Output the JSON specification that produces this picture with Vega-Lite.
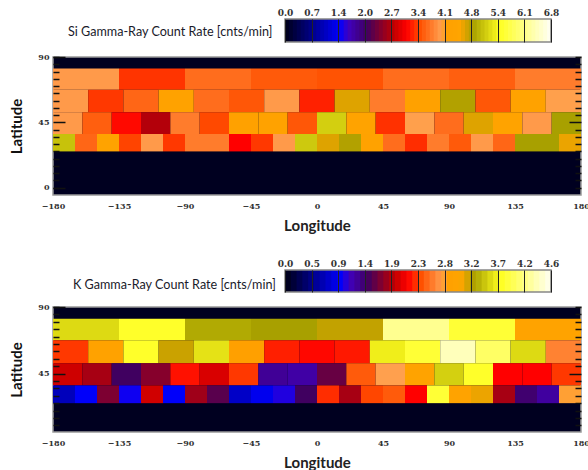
{
"$schema":"https://vega.github.io/schema/vega-lite/v6.json",
"padding":{"left":9,"top":8,"right":0,"bottom":0},
"background":"white",
"datasets":{
"si":[
{"a":-180,"b":-135,"s":82,"n":67.5,"v":3.9},{"a":-135,"b":-90,"s":82,"n":67.5,"v":3.28},{"a":-90,"b":-45,"s":82,"n":67.5,"v":3.6},{"a":-45,"b":0,"s":82,"n":67.5,"v":3.47},{"a":0,"b":45,"s":82,"n":67.5,"v":3.42},{"a":45,"b":90,"s":82,"n":67.5,"v":3.6},{"a":90,"b":135,"s":82,"n":67.5,"v":3.5},{"a":135,"b":180,"s":82,"n":67.5,"v":3.7},
{"a":-180,"b":-156,"s":67.5,"n":52,"v":3.9},{"a":-156,"b":-132,"s":67.5,"n":52,"v":3.3},{"a":-132,"b":-108,"s":67.5,"n":52,"v":3.55},{"a":-108,"b":-84,"s":67.5,"n":52,"v":4.2},{"a":-84,"b":-60,"s":67.5,"n":52,"v":3.6},{"a":-60,"b":-36,"s":67.5,"n":52,"v":3.45},{"a":-36,"b":-12,"s":67.5,"n":52,"v":3.9},{"a":-12,"b":12,"s":67.5,"n":52,"v":3.2},{"a":12,"b":36,"s":67.5,"n":52,"v":4.55},{"a":36,"b":60,"s":67.5,"n":52,"v":3.7},{"a":60,"b":84,"s":67.5,"n":52,"v":4.15},{"a":84,"b":108,"s":67.5,"n":52,"v":4.72},{"a":108,"b":132,"s":67.5,"n":52,"v":3.45},{"a":132,"b":156,"s":67.5,"n":52,"v":4.2},{"a":156,"b":180,"s":67.5,"n":52,"v":3.95},
{"a":-180,"b":-160,"s":52,"n":37,"v":3.9},{"a":-160,"b":-140,"s":52,"n":37,"v":3.5},{"a":-140,"b":-120,"s":52,"n":37,"v":3.1},{"a":-120,"b":-100,"s":52,"n":37,"v":2.65},{"a":-100,"b":-80,"s":52,"n":37,"v":3.7},{"a":-80,"b":-60,"s":52,"n":37,"v":3.37},{"a":-60,"b":-40,"s":52,"n":37,"v":4.18},{"a":-40,"b":-20,"s":52,"n":37,"v":4.2},{"a":-20,"b":0,"s":52,"n":37,"v":3.45},{"a":0,"b":20,"s":52,"n":37,"v":5.1},{"a":20,"b":40,"s":52,"n":37,"v":4.3},{"a":40,"b":60,"s":52,"n":37,"v":3.27},{"a":60,"b":80,"s":52,"n":37,"v":3.95},{"a":80,"b":100,"s":52,"n":37,"v":3.6},{"a":100,"b":120,"s":52,"n":37,"v":4.55},{"a":120,"b":140,"s":52,"n":37,"v":4.3},{"a":140,"b":160,"s":52,"n":37,"v":3.9},{"a":160,"b":180,"s":52,"n":37,"v":4.76},
{"a":-180,"b":-165,"s":37,"n":25,"v":5.0},{"a":-165,"b":-150,"s":37,"n":25,"v":3.55},{"a":-150,"b":-135,"s":37,"n":25,"v":4.3},{"a":-135,"b":-120,"s":37,"n":25,"v":3.35},{"a":-120,"b":-105,"s":37,"n":25,"v":3.9},{"a":-105,"b":-90,"s":37,"n":25,"v":3.3},{"a":-90,"b":-75,"s":37,"n":25,"v":3.7},{"a":-75,"b":-60,"s":37,"n":25,"v":3.7},{"a":-60,"b":-45,"s":37,"n":25,"v":3.06},{"a":-45,"b":-30,"s":37,"n":25,"v":3.3},{"a":-30,"b":-15,"s":37,"n":25,"v":3.9},{"a":-15,"b":0,"s":37,"n":25,"v":5.05},{"a":0,"b":15,"s":37,"n":25,"v":4.55},{"a":15,"b":30,"s":37,"n":25,"v":4.72},{"a":30,"b":45,"s":37,"n":25,"v":4.2},{"a":45,"b":60,"s":37,"n":25,"v":3.6},{"a":60,"b":75,"s":37,"n":25,"v":3.25},{"a":75,"b":90,"s":37,"n":25,"v":3.7},{"a":90,"b":105,"s":37,"n":25,"v":3.47},{"a":105,"b":120,"s":37,"n":25,"v":3.9},{"a":120,"b":135,"s":37,"n":25,"v":3.55},{"a":135,"b":150,"s":37,"n":25,"v":4.76},{"a":150,"b":165,"s":37,"n":25,"v":4.76},{"a":165,"b":180,"s":37,"n":25,"v":4.5}
],
"k":[
{"a":-180,"b":-135,"s":82,"n":67.5,"v":3.5},{"a":-135,"b":-90,"s":82,"n":67.5,"v":3.72},{"a":-90,"b":-45,"s":82,"n":67.5,"v":3.27},{"a":-45,"b":0,"s":82,"n":67.5,"v":3.22},{"a":0,"b":45,"s":82,"n":67.5,"v":3.15},{"a":45,"b":90,"s":82,"n":67.5,"v":4.14},{"a":90,"b":135,"s":82,"n":67.5,"v":3.77},{"a":135,"b":180,"s":82,"n":67.5,"v":2.9},
{"a":-180,"b":-156,"s":67.5,"n":52,"v":2.23},{"a":-156,"b":-132,"s":67.5,"n":52,"v":2.85},{"a":-132,"b":-108,"s":67.5,"n":52,"v":3.72},{"a":-108,"b":-84,"s":67.5,"n":52,"v":3.13},{"a":-84,"b":-60,"s":67.5,"n":52,"v":3.54},{"a":-60,"b":-36,"s":67.5,"n":52,"v":2.76},{"a":-36,"b":-12,"s":67.5,"n":52,"v":2.16},{"a":-12,"b":12,"s":67.5,"n":52,"v":2.09},{"a":12,"b":36,"s":67.5,"n":52,"v":2.14},{"a":36,"b":60,"s":67.5,"n":52,"v":3.6},{"a":60,"b":84,"s":67.5,"n":52,"v":3.77},{"a":84,"b":108,"s":67.5,"n":52,"v":4.32},{"a":108,"b":132,"s":67.5,"n":52,"v":3.96},{"a":132,"b":156,"s":67.5,"n":52,"v":3.5},{"a":156,"b":180,"s":67.5,"n":52,"v":2.53},
{"a":-180,"b":-160,"s":52,"n":37,"v":1.89},{"a":-160,"b":-140,"s":52,"n":37,"v":1.75},{"a":-140,"b":-120,"s":52,"n":37,"v":1.38},{"a":-120,"b":-100,"s":52,"n":37,"v":1.63},{"a":-100,"b":-80,"s":52,"n":37,"v":2.12},{"a":-80,"b":-60,"s":52,"n":37,"v":1.93},{"a":-60,"b":-40,"s":52,"n":37,"v":2.23},{"a":-40,"b":-20,"s":52,"n":37,"v":1.2},{"a":-20,"b":0,"s":52,"n":37,"v":1.15},{"a":0,"b":20,"s":52,"n":37,"v":1.52},{"a":20,"b":40,"s":52,"n":37,"v":2.35},{"a":40,"b":60,"s":52,"n":37,"v":2.67},{"a":60,"b":80,"s":52,"n":37,"v":2.9},{"a":80,"b":100,"s":52,"n":37,"v":3.45},{"a":100,"b":120,"s":52,"n":37,"v":3.72},{"a":120,"b":140,"s":52,"n":37,"v":2.07},{"a":140,"b":160,"s":52,"n":37,"v":2.07},{"a":160,"b":180,"s":52,"n":37,"v":2.23},
{"a":-180,"b":-165,"s":37,"n":25,"v":0.64},{"a":-165,"b":-150,"s":37,"n":25,"v":0.9},{"a":-150,"b":-135,"s":37,"n":25,"v":1.6},{"a":-135,"b":-120,"s":37,"n":25,"v":0.95},{"a":-120,"b":-105,"s":37,"n":25,"v":1.9},{"a":-105,"b":-90,"s":37,"n":25,"v":0.9},{"a":-90,"b":-75,"s":37,"n":25,"v":1.72},{"a":-75,"b":-60,"s":37,"n":25,"v":1.47},{"a":-60,"b":-45,"s":37,"n":25,"v":0.69},{"a":-45,"b":-30,"s":37,"n":25,"v":0.85},{"a":-30,"b":-15,"s":37,"n":25,"v":0.99},{"a":-15,"b":0,"s":37,"n":25,"v":1.38},{"a":0,"b":15,"s":37,"n":25,"v":2.2},{"a":15,"b":30,"s":37,"n":25,"v":1.75},{"a":30,"b":45,"s":37,"n":25,"v":2.27},{"a":45,"b":60,"s":37,"n":25,"v":2.35},{"a":60,"b":75,"s":37,"n":25,"v":2.07},{"a":75,"b":90,"s":37,"n":25,"v":3.77},{"a":90,"b":105,"s":37,"n":25,"v":2.9},{"a":105,"b":120,"s":37,"n":25,"v":3.04},{"a":120,"b":135,"s":37,"n":25,"v":1.75},{"a":135,"b":150,"s":37,"n":25,"v":1.33},{"a":150,"b":165,"s":37,"n":25,"v":1.17},{"a":165,"b":180,"s":37,"n":25,"v":2.7}
],
"barSi":[{"v":0,"w":0.1},{"v":0.1,"w":0.2},{"v":0.2,"w":0.3},{"v":0.3,"w":0.4},{"v":0.4,"w":0.5},{"v":0.5,"w":0.6},{"v":0.6,"w":0.7},{"v":0.7,"w":0.8},{"v":0.8,"w":0.9},{"v":0.9,"w":1},{"v":1,"w":1.1},{"v":1.1,"w":1.2},{"v":1.2,"w":1.3},{"v":1.3,"w":1.4},{"v":1.4,"w":1.5},{"v":1.5,"w":1.6},{"v":1.6,"w":1.7},{"v":1.7,"w":1.8},{"v":1.8,"w":1.9},{"v":1.9,"w":2},{"v":2,"w":2.1},{"v":2.1,"w":2.2},{"v":2.2,"w":2.3},{"v":2.3,"w":2.4},{"v":2.4,"w":2.5},{"v":2.5,"w":2.6},{"v":2.6,"w":2.7},{"v":2.7,"w":2.8},{"v":2.8,"w":2.9},{"v":2.9,"w":3},{"v":3,"w":3.1},{"v":3.1,"w":3.2},{"v":3.2,"w":3.3},{"v":3.3,"w":3.4},{"v":3.4,"w":3.5},{"v":3.5,"w":3.6},{"v":3.6,"w":3.7},{"v":3.7,"w":3.8},{"v":3.8,"w":3.9},{"v":3.9,"w":4},{"v":4,"w":4.1},{"v":4.1,"w":4.2},{"v":4.2,"w":4.3},{"v":4.3,"w":4.4},{"v":4.4,"w":4.5},{"v":4.5,"w":4.6},{"v":4.6,"w":4.7},{"v":4.7,"w":4.8},{"v":4.8,"w":4.9},{"v":4.9,"w":5},{"v":5,"w":5.1},{"v":5.1,"w":5.2},{"v":5.2,"w":5.3},{"v":5.3,"w":5.4},{"v":5.4,"w":5.5},{"v":5.5,"w":5.6},{"v":5.6,"w":5.7},{"v":5.7,"w":5.8},{"v":5.8,"w":5.9},{"v":5.9,"w":6},{"v":6,"w":6.1},{"v":6.1,"w":6.2},{"v":6.2,"w":6.3},{"v":6.3,"w":6.4},{"v":6.4,"w":6.5},{"v":6.5,"w":6.6},{"v":6.6,"w":6.7},{"v":6.7,"w":6.8}],
"barK":[{"v":0,"w":0.1},{"v":0.1,"w":0.2},{"v":0.2,"w":0.3},{"v":0.3,"w":0.4},{"v":0.4,"w":0.5},{"v":0.5,"w":0.6},{"v":0.6,"w":0.7},{"v":0.7,"w":0.8},{"v":0.8,"w":0.9},{"v":0.9,"w":1},{"v":1,"w":1.1},{"v":1.1,"w":1.2},{"v":1.2,"w":1.3},{"v":1.3,"w":1.4},{"v":1.4,"w":1.5},{"v":1.5,"w":1.6},{"v":1.6,"w":1.7},{"v":1.7,"w":1.8},{"v":1.8,"w":1.9},{"v":1.9,"w":2},{"v":2,"w":2.1},{"v":2.1,"w":2.2},{"v":2.2,"w":2.3},{"v":2.3,"w":2.4},{"v":2.4,"w":2.5},{"v":2.5,"w":2.6},{"v":2.6,"w":2.7},{"v":2.7,"w":2.8},{"v":2.8,"w":2.9},{"v":2.9,"w":3},{"v":3,"w":3.1},{"v":3.1,"w":3.2},{"v":3.2,"w":3.3},{"v":3.3,"w":3.4},{"v":3.4,"w":3.5},{"v":3.5,"w":3.6},{"v":3.6,"w":3.7},{"v":3.7,"w":3.8},{"v":3.8,"w":3.9},{"v":3.9,"w":4},{"v":4,"w":4.1},{"v":4.1,"w":4.2},{"v":4.2,"w":4.3},{"v":4.3,"w":4.4},{"v":4.4,"w":4.5},{"v":4.5,"w":4.6}]
},
"config":{"view":{"stroke":null},"axis":{"labelFont":"DejaVu Serif","labelFontWeight":"bold","labelFontSize":8,"labelColor":"#333","grid":false,"labelFlush":false},"title":{"font":"Lato","fontSize":12.6,"fontWeight":"normal","color":"#1a1a2a"}},
"spacing":25,
"vconcat":[
{"spacing":9,"vconcat":[
{"width":528,"height":23,
 "title":{"text":"Si Gamma-Ray Count Rate [cnts/min]","anchor":"start","frame":"group","dx":15,"dy":31,"offset":0},
 "layer":[{"data":{"name":"barSi"},"mark":{"type":"rect","x2Offset":1},
 "encoding":{
 "x":{"field":"v","type":"quantitative","scale":{"domain":[0,6.8],"range":[232,498],"nice":false},
  "axis":{"zindex":1,"orient":"top","title":null,"values":[0,0.68,1.36,2.04,2.72,3.4,4.08,4.76,5.44,6.12,6.8],"format":".1f","tickSize":-23,"tickColor":"#222","tickWidth":1,"domain":false,"labelPadding":25,"labelFontSize":9,"labelOverlap":false,"labelFlush":false}},
 "x2":{"field":"w"},
 "y":{"value":0},"y2":{"value":23},
 "color":{"field":"v","type":"quantitative","legend":null,"scale":{"interpolate":"rgb","domain":[0,0.68,1.36,1.564,2.04,2.72,3.06,3.4,3.944,4.08,4.42,4.76,5.44,6.12,6.8],"range":["#000020","#000090","#0000ff","#4000c0","#400060","#c00000","#ff0000","#ff5000","#ffa050","#ffa000","#ffa500","#a8a000","#ffff20","#ffff90","#ffffff"]}}
 }},
 {"data":{"values":[{"v":0,"w":6.8}]},"mark":{"type":"rect","fillOpacity":0,"stroke":"#888","strokeWidth":1.5},
 "encoding":{"x":{"field":"v","type":"quantitative"},"x2":{"field":"w"},"y":{"value":0},"y2":{"value":23}}}
 ]
},
{"width":528,"height":138,
 "view":{"fill":"#000020","stroke":"#999","strokeWidth":1.5},
 "layer":[
 {"data":{"name":"si"},"mark":{"type":"rect"},
 "encoding":{
 "x":{"field":"a","type":"quantitative","scale":{"domain":[-180,180],"nice":false},
  "axis":{"title":"Longitude","titleFont":"Lato","titleFontSize":15,"titleFontWeight":"bold","titleColor":"#222","titlePadding":8,"values":[-180,-135,-90,-45,0,45,90,135,180],"tickSize":0,"domain":false,"labelPadding":7,"labelFontSize":8,"labelOverlap":false,"labelFlush":false}},
 "x2":{"field":"b"},
 "y":{"field":"s","type":"quantitative","scale":{"domain":[-5,90],"nice":false},
  "axis":{"zindex":1,"title":"Latitude","titleFont":"Lato","titleFontSize":15,"titleFontWeight":"bold","titleColor":"#111","titlePadding":13,"values":[0,45,90],"tickColor":"#111","tickWidth":1.5,"tickSize":-12,"domain":false,"labelPadding":16,"labelFontSize":8,"labelOverlap":false,"labelFlush":false}},
 "y2":{"field":"n"},
 "color":{"field":"v","type":"quantitative","legend":null,"scale":{"interpolate":"rgb","domain":[0,0.68,1.36,1.564,2.04,2.72,3.06,3.4,3.944,4.08,4.42,4.76,5.44,6.12,6.8],"range":["#000020","#000090","#0000ff","#4000c0","#400060","#c00000","#ff0000","#ff5000","#ffa050","#ffa000","#ffa500","#a8a000","#ffff20","#ffff90","#ffffff"]}}
 }},
 {"data":{"name":"si"},"mark":{"type":"rect","opacity":0},
 "encoding":{
 "x":{"field":"a","type":"quantitative"},"x2":{"field":"b"},
 "y":{"field":"s","type":"quantitative","scale":{"domain":[-5,90],"nice":false},
  "axis":{"zindex":1,"orient":"left","title":null,"labels":false,"values":[0,5,10,15,20,25,30,35,40,50,55,60,65,70,75,80,85,90],"tickColor":"#111","tickWidth":1.5,"tickSize":-6,"domain":false}},
 "y2":{"field":"n"}
 }},
 {"data":{"name":"si"},"mark":{"type":"rect","opacity":0},
 "encoding":{
 "x":{"field":"a","type":"quantitative"},"x2":{"field":"b"},
 "y":{"field":"s","type":"quantitative","scale":{"domain":[-5,90],"nice":false},
  "axis":{"zindex":1,"orient":"right","title":null,"labels":false,"values":[0,5,10,15,20,25,30,35,40,45,50,55,60,65,70,75,80,85,90],"tickColor":"#111","tickWidth":1.5,"tickSize":{"expr":"datum.value==45?-12:-6"},"domain":false}},
 "y2":{"field":"n"}
 }}
 ],
 "resolve":{"scale":{"y":"independent"}}
}]},
{"spacing":9,"vconcat":[
{"width":528,"height":22,
 "title":{"text":"K Gamma-Ray Count Rate [cnts/min]","anchor":"start","frame":"group","dx":20,"dy":33,"offset":0},
 "layer":[{"data":{"name":"barK"},"mark":{"type":"rect","x2Offset":1},
 "encoding":{
 "x":{"field":"v","type":"quantitative","scale":{"domain":[0,4.6],"range":[232,498],"nice":false},
  "axis":{"zindex":1,"orient":"top","title":null,"values":[0,0.46,0.92,1.38,1.84,2.3,2.76,3.22,3.68,4.14,4.6],"format":".1f","labelExpr":"datum.value==1.84?'1.9':datum.value==4.14?'4.2':datum.label","tickSize":-22,"tickColor":"#222","tickWidth":1,"domain":false,"labelPadding":24,"labelFontSize":9,"labelOverlap":false,"labelFlush":false}},
 "x2":{"field":"w"},
 "y":{"value":0},"y2":{"value":22},
 "color":{"field":"v","type":"quantitative","legend":null,"scale":{"interpolate":"rgb","domain":[0,0.46,0.92,1.058,1.38,1.84,2.07,2.3,2.668,2.76,2.99,3.22,3.68,4.14,4.6],"range":["#000020","#000090","#0000ff","#4000c0","#400060","#c00000","#ff0000","#ff5000","#ffa050","#ffa000","#ffa500","#a8a000","#ffff20","#ffff90","#ffffff"]}}
 }},
 {"data":{"values":[{"v":0,"w":4.6}]},"mark":{"type":"rect","fillOpacity":0,"stroke":"#888","strokeWidth":1.5},
 "encoding":{"x":{"field":"v","type":"quantitative"},"x2":{"field":"w"},"y":{"value":0},"y2":{"value":22}}}
 ]
},
{"width":528,"height":125,
 "view":{"fill":"#000020","stroke":"#999","strokeWidth":1.5},
 "layer":[
 {"data":{"name":"k"},"mark":{"type":"rect"},
 "encoding":{
 "x":{"field":"a","type":"quantitative","scale":{"domain":[-180,180],"nice":false},
  "axis":{"title":"Longitude","titleFont":"Lato","titleFontSize":15,"titleFontWeight":"bold","titleColor":"#222","titlePadding":8,"values":[-180,-135,-90,-45,0,45,90,135,180],"tickSize":0,"domain":false,"labelPadding":7,"labelFontSize":8,"labelOverlap":false,"labelFlush":false}},
 "x2":{"field":"b"},
 "y":{"field":"s","type":"quantitative","scale":{"domain":[5.5,90],"nice":false},
  "axis":{"zindex":1,"title":"Latitude","titleFont":"Lato","titleFontSize":15,"titleFontWeight":"bold","titleColor":"#111","titlePadding":13,"values":[45,90],"tickColor":"#111","tickWidth":1.5,"tickSize":-12,"domain":false,"labelPadding":16,"labelFontSize":8,"labelOverlap":false,"labelFlush":false}},
 "y2":{"field":"n"},
 "color":{"field":"v","type":"quantitative","legend":null,"scale":{"interpolate":"rgb","domain":[0,0.46,0.92,1.058,1.38,1.84,2.07,2.3,2.668,2.76,2.99,3.22,3.68,4.14,4.6],"range":["#000020","#000090","#0000ff","#4000c0","#400060","#c00000","#ff0000","#ff5000","#ffa050","#ffa000","#ffa500","#a8a000","#ffff20","#ffff90","#ffffff"]}}
 }},
 {"data":{"name":"k"},"mark":{"type":"rect","opacity":0},
 "encoding":{
 "x":{"field":"a","type":"quantitative"},"x2":{"field":"b"},
 "y":{"field":"s","type":"quantitative","scale":{"domain":[5.5,90],"nice":false},
  "axis":{"zindex":1,"orient":"left","title":null,"labels":false,"values":[10,15,20,25,30,35,40,50,55,60,65,70,75,80,85,90],"tickColor":"#111","tickWidth":1.5,"tickSize":-6,"domain":false}},
 "y2":{"field":"n"}
 }},
 {"data":{"name":"k"},"mark":{"type":"rect","opacity":0},
 "encoding":{
 "x":{"field":"a","type":"quantitative"},"x2":{"field":"b"},
 "y":{"field":"s","type":"quantitative","scale":{"domain":[5.5,90],"nice":false},
  "axis":{"zindex":1,"orient":"right","title":null,"labels":false,"values":[10,15,20,25,30,35,40,45,50,55,60,65,70,75,80,85,90],"tickColor":"#111","tickWidth":1.5,"tickSize":{"expr":"datum.value==45?-12:-6"},"domain":false}},
 "y2":{"field":"n"}
 }}
 ],
 "resolve":{"scale":{"y":"independent"}}
}]}
],
"resolve":{"scale":{"color":"independent"}}
}
